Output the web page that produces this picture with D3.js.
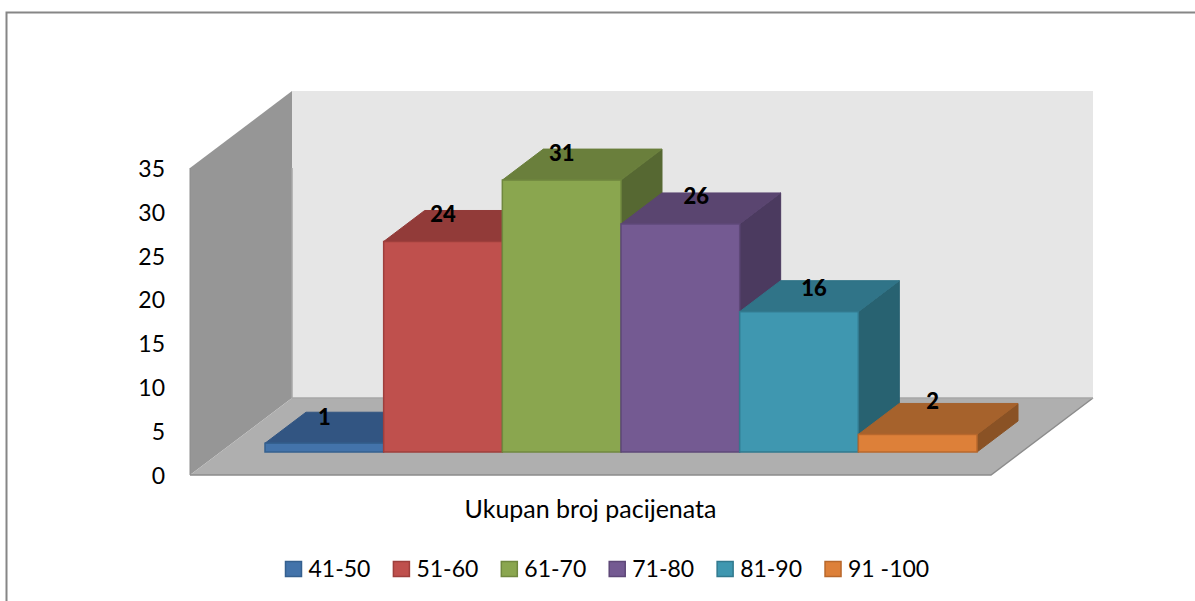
<!DOCTYPE html>
<html>
<head>
<meta charset="utf-8">
<script src="https://cdn.jsdelivr.net/npm/d3@7"></script>
<style>
html, body { margin: 0; padding: 0; background: #fff; overflow: hidden; }
text { font-family: Lato, sans-serif; fill: #000; }
</style>
</head>
<body>
<script>
var categories = ["41-50", "51-60", "61-70", "71-80", "81-90", "91 -100"];
var values = [1, 24, 31, 26, 16, 2];
var yTicks = [0, 5, 10, 15, 20, 25, 30, 35];
var seriesLabel = "Ukupan broj pacijenata";

// front, top and side shade of each bar
var frontColors = ["#4373aa", "#bf504d", "#8aa64f", "#745a92", "#3f97b0", "#dd8039"];
var topColors = ["#325582", "#923b39", "#6a7f3c", "#5a4570", "#307488", "#a6622c"];
var sideColors = ["#2a4a70", "#7f3230", "#566832", "#4b3a5f", "#286271", "#8a5225"];
var edgeColors = ["#35608f", "#9e3f3c", "#70883f", "#5e4878", "#32798e", "#b8682c"];

var width = 1195, height = 601;
var svg = d3.select("body").append("svg").attr("width", width).attr("height", height);

// outer chart frame, runs off the right and bottom of the picture
svg.append("rect").attr("x", 6.5).attr("y", 12.5).attr("width", width).attr("height", height)
	.attr("fill", "#fff").attr("stroke", "#868686").attr("stroke-width", 2);

var y = d3.scaleLinear().domain([0, 35]).range([475, 168]);
var x = d3.scaleBand().domain(categories).range([265, 977]);

var wallDx = 102, wallDy = -77; // depth of the chart box
var barDx = 41, barDy = -31;    // depth of a bar
var floorLift = 23;             // bars stand this far back on the floor
var left = 190, right = 991;

function poly(points){
	return points.map(function(p){ return p.join(","); }).join(" ");
}

var walls = svg.append("g");
walls.append("polygon")
	.attr("points", poly([[left + wallDx, y(35) + wallDy], [right + wallDx, y(35) + wallDy], [right + wallDx, y(0) + wallDy], [left + wallDx, y(0) + wallDy]]))
	.attr("fill", "#e6e6e6");
walls.append("polygon")
	.attr("points", poly([[left, y(35)], [left + wallDx, y(35) + wallDy], [left + wallDx, y(0) + wallDy], [left, y(0)]]))
	.attr("fill", "#969696");
walls.append("polygon")
	.attr("points", poly([[left, y(0)], [left + wallDx, y(0) + wallDy], [right + wallDx, y(0) + wallDy], [right, y(0)]]))
	.attr("fill", "#afafaf");
walls.append("path")
	.attr("d", "M" + left + "," + y(0) + "H" + right + "L" + (right + wallDx) + "," + (y(0) + wallDy))
	.attr("fill", "none").attr("stroke", "#8c8c8c").attr("stroke-width", 1.5);
walls.append("path")
	.attr("d", "M" + left + "," + y(0) + "V" + y(35))
	.attr("fill", "none").attr("stroke", "#8c8c8c").attr("stroke-width", 1);
walls.append("path")
	.attr("d", "M" + (left + wallDx) + "," + y(35) + "V" + (y(0) + wallDy) + "H" + (right + wallDx))
	.attr("fill", "none").attr("stroke", "#a8a8a8").attr("stroke-width", 1.5);

// painted left to right so every bar covers the side of the one before it
var bars = svg.append("g").selectAll("g").data(categories).join("g");

function barBox(i){
	var base = y(0) - floorLift;
	return {
		x0: x(categories[i]),
		x1: x(categories[i]) + x.bandwidth(),
		base: base,
		top: base - (y(0) - y(values[i]))
	};
}

bars.append("polygon")
	.attr("points", function(d, i){
		var b = barBox(i);
		return poly([[b.x1, b.top], [b.x1 + barDx, b.top + barDy], [b.x1 + barDx, b.base + barDy], [b.x1, b.base]]);
	})
	.attr("fill", function(d, i){ return sideColors[i]; })
	.attr("stroke", function(d, i){ return sideColors[i]; });

bars.append("polygon")
	.attr("points", function(d, i){
		var b = barBox(i);
		return poly([[b.x0, b.top], [b.x0 + barDx, b.top + barDy], [b.x1 + barDx, b.top + barDy], [b.x1, b.top]]);
	})
	.attr("fill", function(d, i){ return topColors[i]; })
	.attr("stroke", function(d, i){ return topColors[i]; });

bars.append("rect")
	.attr("x", function(d, i){ return barBox(i).x0; })
	.attr("y", function(d, i){ return barBox(i).top; })
	.attr("width", x.bandwidth())
	.attr("height", function(d, i){ return barBox(i).base - barBox(i).top; })
	.attr("fill", function(d, i){ return frontColors[i]; })
	.attr("stroke", function(d, i){ return edgeColors[i]; })
	.attr("stroke-width", 1.5);

// value labels, the last three were dragged sideways in the original
var labelNudgeX = [0, 0, 0, 16, 15, 15];
var labelNudgeY = [-26, -27, -27, -28, -23, -33];
svg.append("g").selectAll("text").data(categories).join("text")
	.attr("x", function(d, i){ return x(d) + x.bandwidth() / 2 + labelNudgeX[i]; })
	.attr("y", function(d, i){ return barBox(i).top + labelNudgeY[i]; })
	.attr("dy", "0.35em")
	.attr("text-anchor", "middle")
	.style("font-size", "22px")
	.style("font-weight", "900")
	.text(function(d, i){ return values[i]; });

// value axis
var axis = d3.axisLeft(y).tickValues(yTicks).tickSize(0).tickPadding(0);
var axisG = svg.append("g").attr("transform", "translate(165,1)").call(axis);
axisG.select(".domain").remove();
axisG.selectAll("text").style("font-size", "23px").style("font-family", "Lato, sans-serif");

svg.append("text")
	.attr("x", 590.5).attr("y", 509).attr("dy", "0.35em")
	.attr("text-anchor", "middle")
	.style("font-size", "25px")
	.text(seriesLabel);

// legend, entries laid out by measured text width
var legendX = 285.5;
var legend = svg.append("g");
categories.forEach(function(c, i){
	var g = legend.append("g").attr("transform", "translate(" + legendX + ",561.5)");
	g.append("rect").attr("width", 16).attr("height", 15)
		.attr("fill", frontColors[i]).attr("stroke", edgeColors[i]).attr("stroke-width", 1.5);
	var t = g.append("text").attr("x", 23).attr("y", 7.5).attr("dy", "0.35em")
		.style("font-size", "23px").text(c);
	legendX += 23 + t.node().getComputedTextLength() + 23;
});
</script>
</body>
</html>
